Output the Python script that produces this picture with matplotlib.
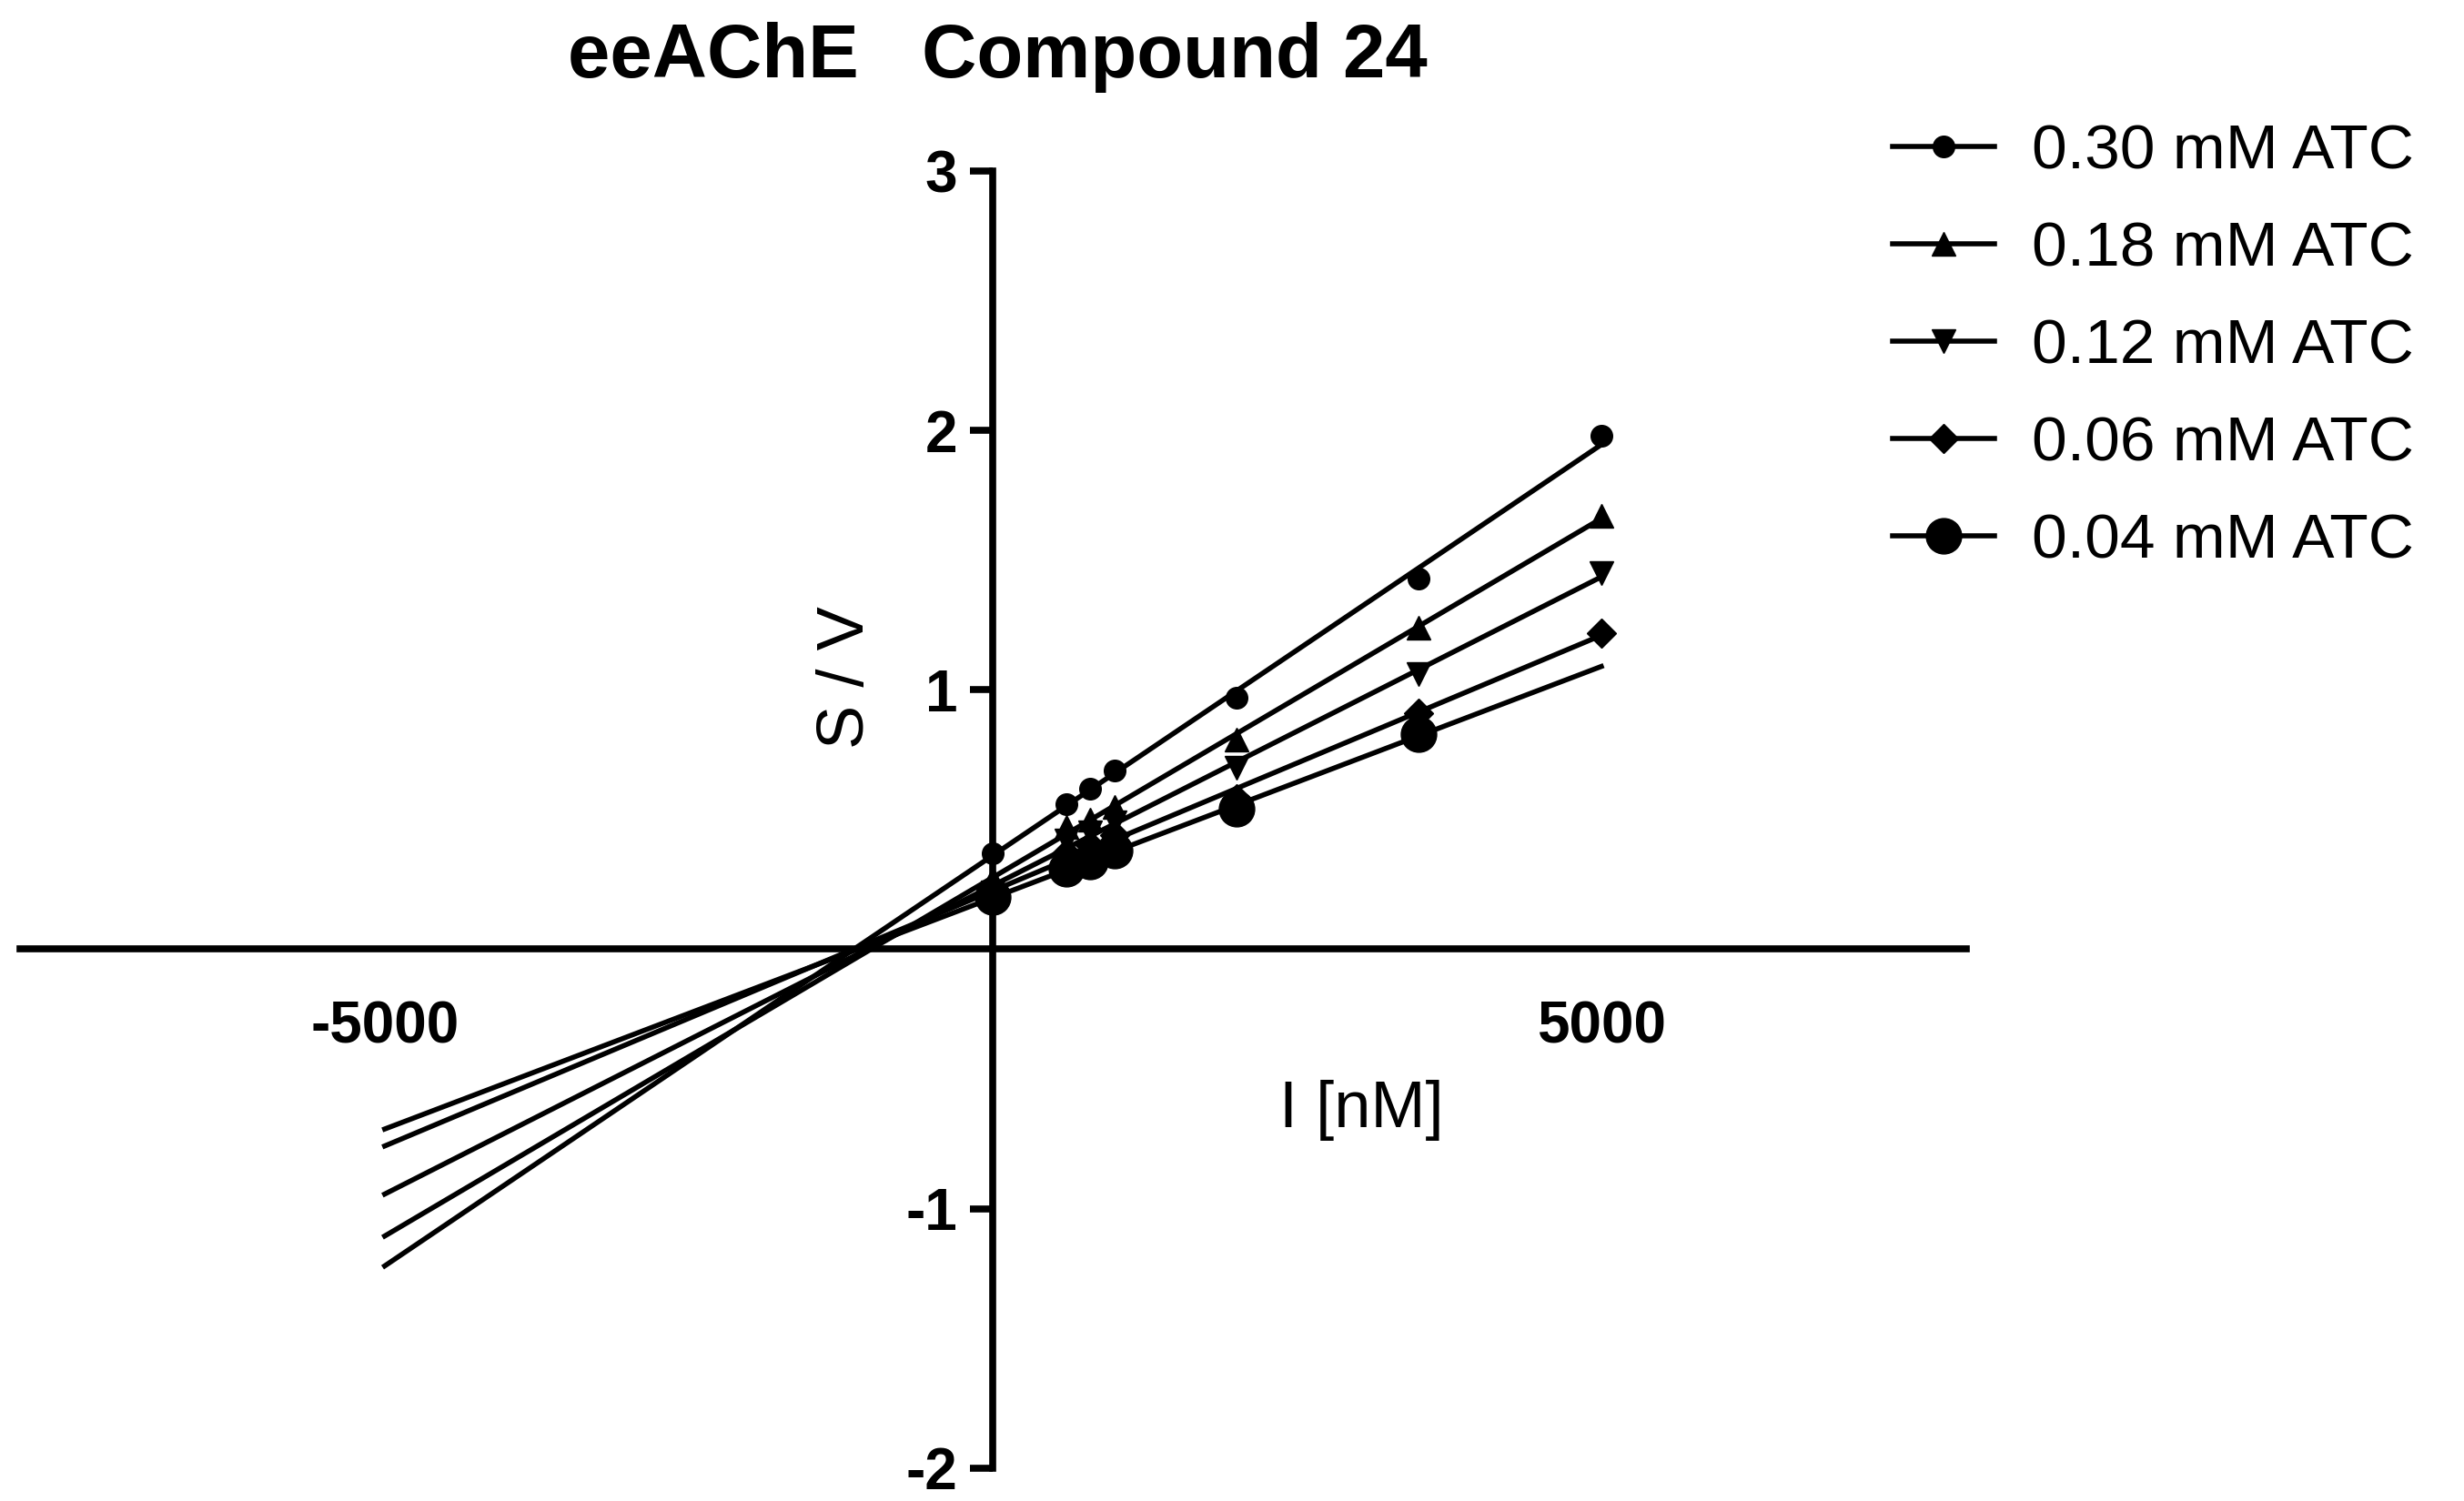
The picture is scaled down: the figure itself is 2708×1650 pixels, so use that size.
import numpy as np
import matplotlib
matplotlib.use("Agg")
import matplotlib.pyplot as plt

plt.rcParams['font.family'] = ['Liberation Sans', 'DejaVu Sans']

# ── Data ──────────────────────────────────────────────────────────────────────
I_NM = [0, 600, 800, 1000, 2000, 3500, 5000]

SERIES_LABELS = ["0.30 mM ATC", "0.18 mM ATC", "0.12 mM ATC", "0.06 mM ATC", "0.04 mM ATC"]
SV_030 = [0.37, 0.56, 0.62, 0.69, 0.97, 1.43, 1.98]
SV_018 = [0.27, 0.47, 0.50, 0.55, 0.81, 1.24, 1.67]
SV_012 = [0.22, 0.42, 0.45, 0.49, 0.70, 1.06, 1.45]
SV_006 = [0.20, 0.37, 0.40, 0.44, 0.58, 0.91, 1.22]
SV_004 = [0.20, 0.31, 0.34, 0.38, 0.54, 0.83, None]

MARKERS = ["o", "^", "v", "D", "o"]
MSIZES  = [17, 19, 19, 16, 28]

FIT_RANGE = [-5000, 5000]

# ── Plot ──────────────────────────────────────────────────────────────────────
fig = plt.figure(figsize=(27.08, 16.5), dpi=100)
ax = fig.add_axes([0.008, 0.022, 0.79, 0.864])

for vals, lab, mk, ms in zip([SV_030, SV_018, SV_012, SV_006, SV_004],
                             SERIES_LABELS, MARKERS, MSIZES):
    xs = np.array([x for x, v in zip(I_NM, vals) if v is not None], float)
    ys = np.array([v for v in vals if v is not None], float)
    slope, icpt = np.polyfit(xs, ys, 1)
    fx = np.array(FIT_RANGE, float)
    ax.plot(fx, slope * fx + icpt, color="black", lw=4, zorder=2)
    ax.plot(xs, ys, linestyle="none", marker=mk, ms=ms, color="black", zorder=3)
    ax.plot([], [], color="black", lw=4, marker=mk, ms=ms, label=lab)

ax.set_xlim(-8000, 8000)
ax.set_ylim(-2, 3)
ax.spines["left"].set_position(("data", 0))
ax.spines["bottom"].set_position(("data", 0))
ax.spines["right"].set_visible(False)
ax.spines["top"].set_visible(False)
for s in ("left", "bottom"):
    ax.spines[s].set_linewidth(5.5)
ax.spines["left"].set_bounds(-2, 3)

ax.set_xticks([-5000, 5000])
ax.set_xticklabels(["-5000", "5000"], fontsize=46, fontweight="bold")
ax.set_yticks([-2, -1, 1, 2, 3])
ax.set_yticklabels(["-2", "-1", "1", "2", "3"], fontsize=46, fontweight="bold")
ax.tick_params(axis="both", direction="out", length=18, width=5.5, pad=10)
ax.tick_params(axis="x", length=0, pad=40)

ax.text(-1200, 1.05, "S / V", rotation=90, fontsize=52, ha="center", va="center")
ax.text(3030, -0.62, "I [nM]", fontsize=52, ha="center", va="center")
fig.text(0.405, 0.962, "eeAChE   Compound 24", fontsize=60, fontweight="bold",
         ha="center", va="center")

ax.legend(loc="upper left", bbox_to_anchor=(0.758, 0.935), bbox_transform=fig.transFigure,
          frameon=False, fontsize=50, handlelength=1.6, labelspacing=0.62,
          handletextpad=0.6, borderaxespad=0)

fig.savefig("out.png", dpi=100)
